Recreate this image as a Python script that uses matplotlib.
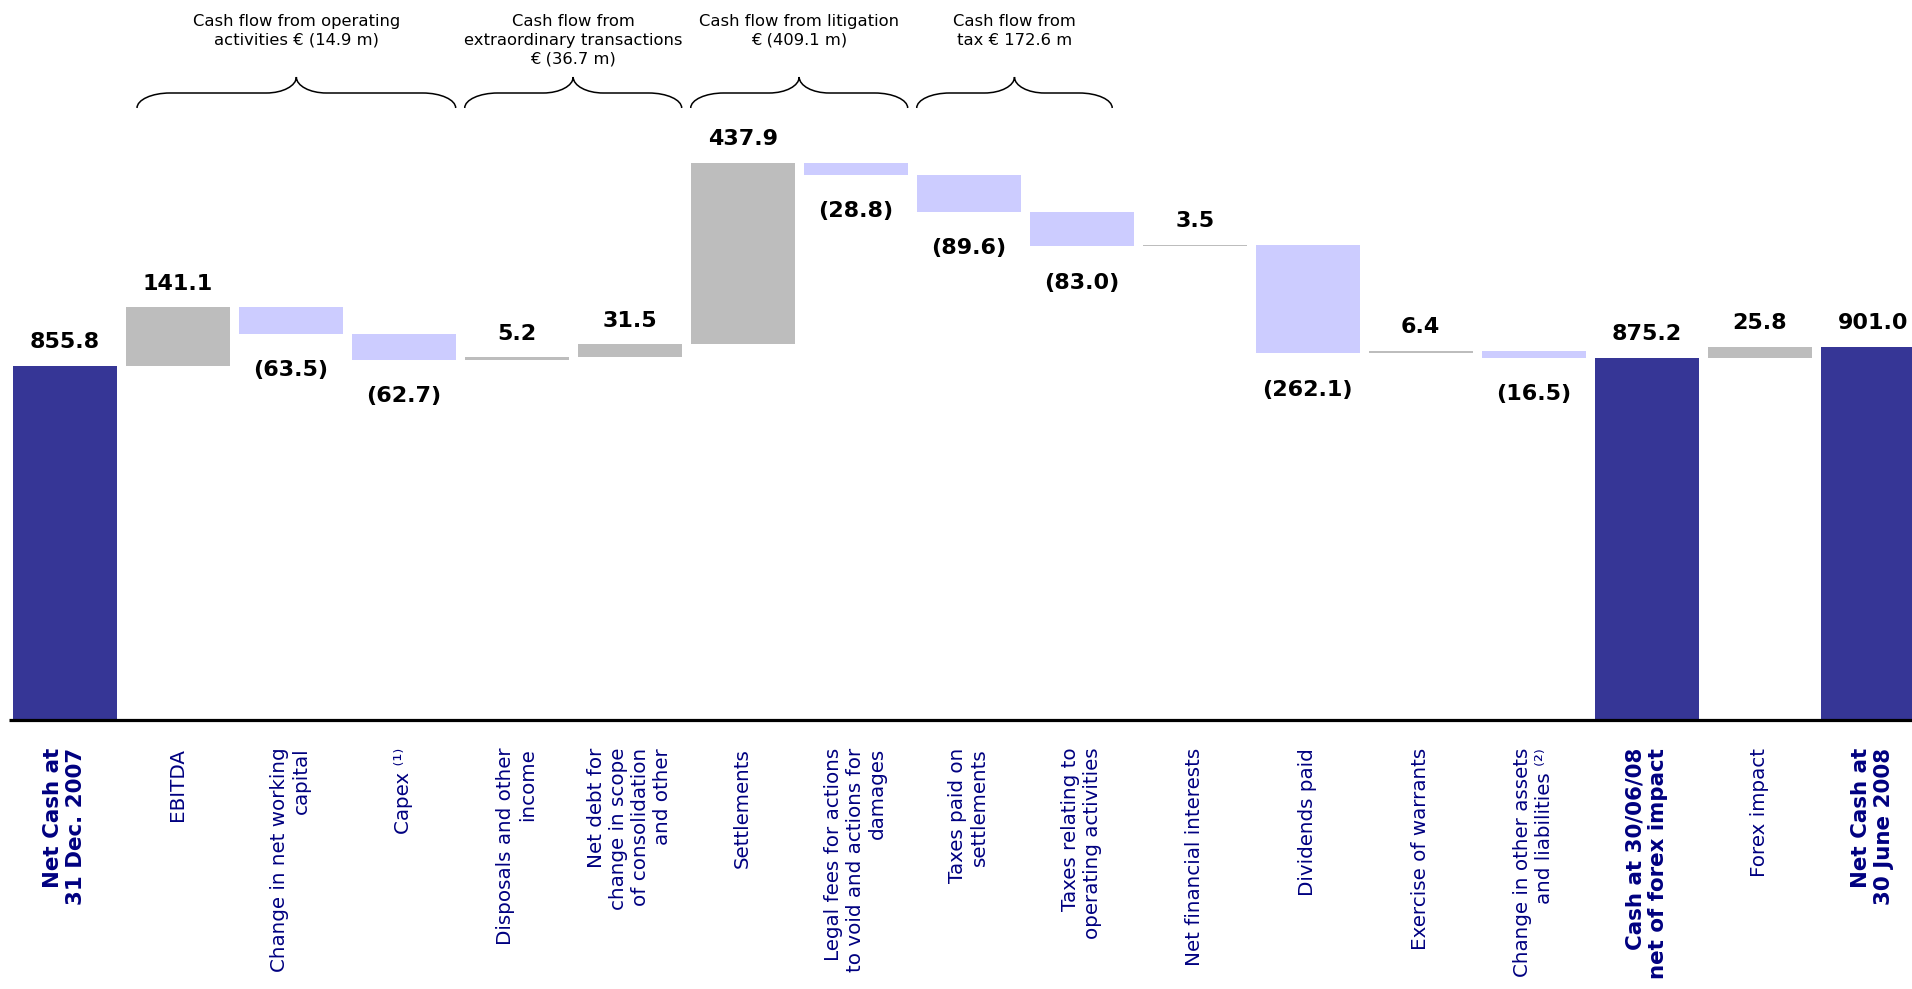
import matplotlib.pyplot as plt
import matplotlib.transforms as mtransforms
from matplotlib.path import Path
from matplotlib.patches import PathPatch

plt.rcParams['font.family'] = ['DejaVu Sans']

# waterfall items, in order
labels = [
    "Net Cash at\n31 Dec. 2007",
    "EBITDA",
    "Change in net working\ncapital",
    "Capex \u207d\u00b9\u207e",
    "Disposals and other\nincome",
    "Net debt for\nchange in scope\nof consolidation\nand other",
    "Settlements",
    "Legal fees for actions\nto void and actions for\ndamages",
    "Taxes paid on\nsettlements",
    "Taxes relating to\noperating activities",
    "Net financial interests",
    "Dividends paid",
    "Exercise of warrants",
    "Change in other assets\nand liabilities \u207d\u00b2\u207e",
    "Cash at 30/06/08\nnet of forex impact",
    "Forex impact",
    "Net Cash at\n30 June 2008",
]
values = [855.8, 141.1, -63.5, -62.7, 5.2, 31.5, 437.9, -28.8, -89.6, -83.0,
          3.5, -262.1, 6.4, -16.5, 875.2, 25.8, 901.0]
totals = [0, 14, 16]

# brace groups above the bars: title, first item, last item
group_titles = [
    "Cash flow from operating\nactivities \u20ac (14.9 m)",
    "Cash flow from\nextraordinary transactions\n\u20ac (36.7 m)",
    "Cash flow from litigation\n\u20ac (409.1 m)",
    "Cash flow from\ntax \u20ac 172.6 m",
]
group_first = [1, 4, 6, 8]
group_last = [3, 5, 7, 9]
brace_trim = [(0.1, 0.0), (0.0, 0.0), (0.0, 0.0), (0.0, 0.19)]

c_total = '#363696'
c_up = '#bdbdbd'
c_down = '#ccccff'
c_text = '#000080'

W, H = 1912, 989
fig = plt.figure(figsize=(W / 100, H / 100), dpi=100)
ax = fig.add_axes([0, 0, 1, 1])

# pixel layout: bar pitch 113 px, first centre at 64.7 px, baseline 720 px from top
pitch = 113.0
x0 = 64.7
px_per_unit = 0.414
base = 720
ax.set_xlim(-x0 / pitch, (W - x0) / pitch)
ax.set_ylim(-(H - base) / px_per_unit, base / px_per_unit)
ax.axis('off')

width = 0.92
running = 0.0
for i, v in enumerate(values):
    if i in totals:
        bottom, height, color = 0.0, v, c_total
        running = v
    else:
        bottom = running if v > 0 else running + v
        height = abs(v)
        color = c_up if v > 0 else c_down
        running += v
    ax.bar(i, height, bottom=bottom, width=width, color=color, linewidth=0, zorder=2)

    if v > 0:
        txt = f"{v:.1f}"
        ax.annotate(txt, (i, bottom + height), xytext=(0, 17), textcoords='offset points',
                    ha='center', va='center', fontsize=16, fontweight='bold', color='black')
    else:
        txt = f"({abs(v):.1f})"
        ax.annotate(txt, (i, bottom), xytext=(0, -26), textcoords='offset points',
                    ha='center', va='center', fontsize=16, fontweight='bold', color='black')

    bold = i in totals
    ax.annotate(labels[i], (i, 0), xytext=(0, -20), textcoords='offset points',
                rotation=90, ha='center', va='top', multialignment='right',
                fontsize=15.4 if bold else 14.3, fontweight='bold' if bold else 'normal',
                color=c_text, linespacing=1.2)

# baseline
ax.plot([-0.49, len(values)], [0, 0], color='black', lw=2.3,
        solid_capstyle='butt', zorder=3, clip_on=False)

# curly braces with group titles
trans = mtransforms.blended_transform_factory(ax.transData, ax.transAxes)
yb = 1 - 108 / H
ym = 1 - 93 / H
yt = 1 - 77 / H
r_end = 33 / pitch
r_tip = 30 / pitch
k = 0.55


def brace(xa, xb):
    xt = (xa + xb) / 2
    verts = [
        (xa, yb),
        (xa, yb + k * (ym - yb)), (xa + r_end * (1 - k), ym), (xa + r_end, ym),
        (xt - r_tip, ym),
        (xt - r_tip * (1 - k), ym), (xt, ym + (1 - k) * (yt - ym)), (xt, yt),
        (xt, ym + (1 - k) * (yt - ym)), (xt + r_tip * (1 - k), ym), (xt + r_tip, ym),
        (xb - r_end, ym),
        (xb - r_end * (1 - k), ym), (xb, yb + k * (ym - yb)), (xb, yb),
    ]
    codes = [Path.MOVETO,
             Path.CURVE4, Path.CURVE4, Path.CURVE4,
             Path.LINETO,
             Path.CURVE4, Path.CURVE4, Path.CURVE4,
             Path.CURVE4, Path.CURVE4, Path.CURVE4,
             Path.LINETO,
             Path.CURVE4, Path.CURVE4, Path.CURVE4]
    ax.add_patch(PathPatch(Path(verts, codes), transform=trans, fill=False,
                           edgecolor='black', lw=1.1, clip_on=False))
    return xt


for title, a, b, (ta, tb) in zip(group_titles, group_first, group_last, brace_trim):
    xa = a - width / 2 + ta
    xb = b + width / 2 - tb
    xt = brace(xa, xb)
    ax.text(xt, 1 - 14 / H, title, transform=trans, ha='center', va='top',
            fontsize=11.8, color='black', linespacing=1.3)

fig.savefig('out.png', dpi=100)
